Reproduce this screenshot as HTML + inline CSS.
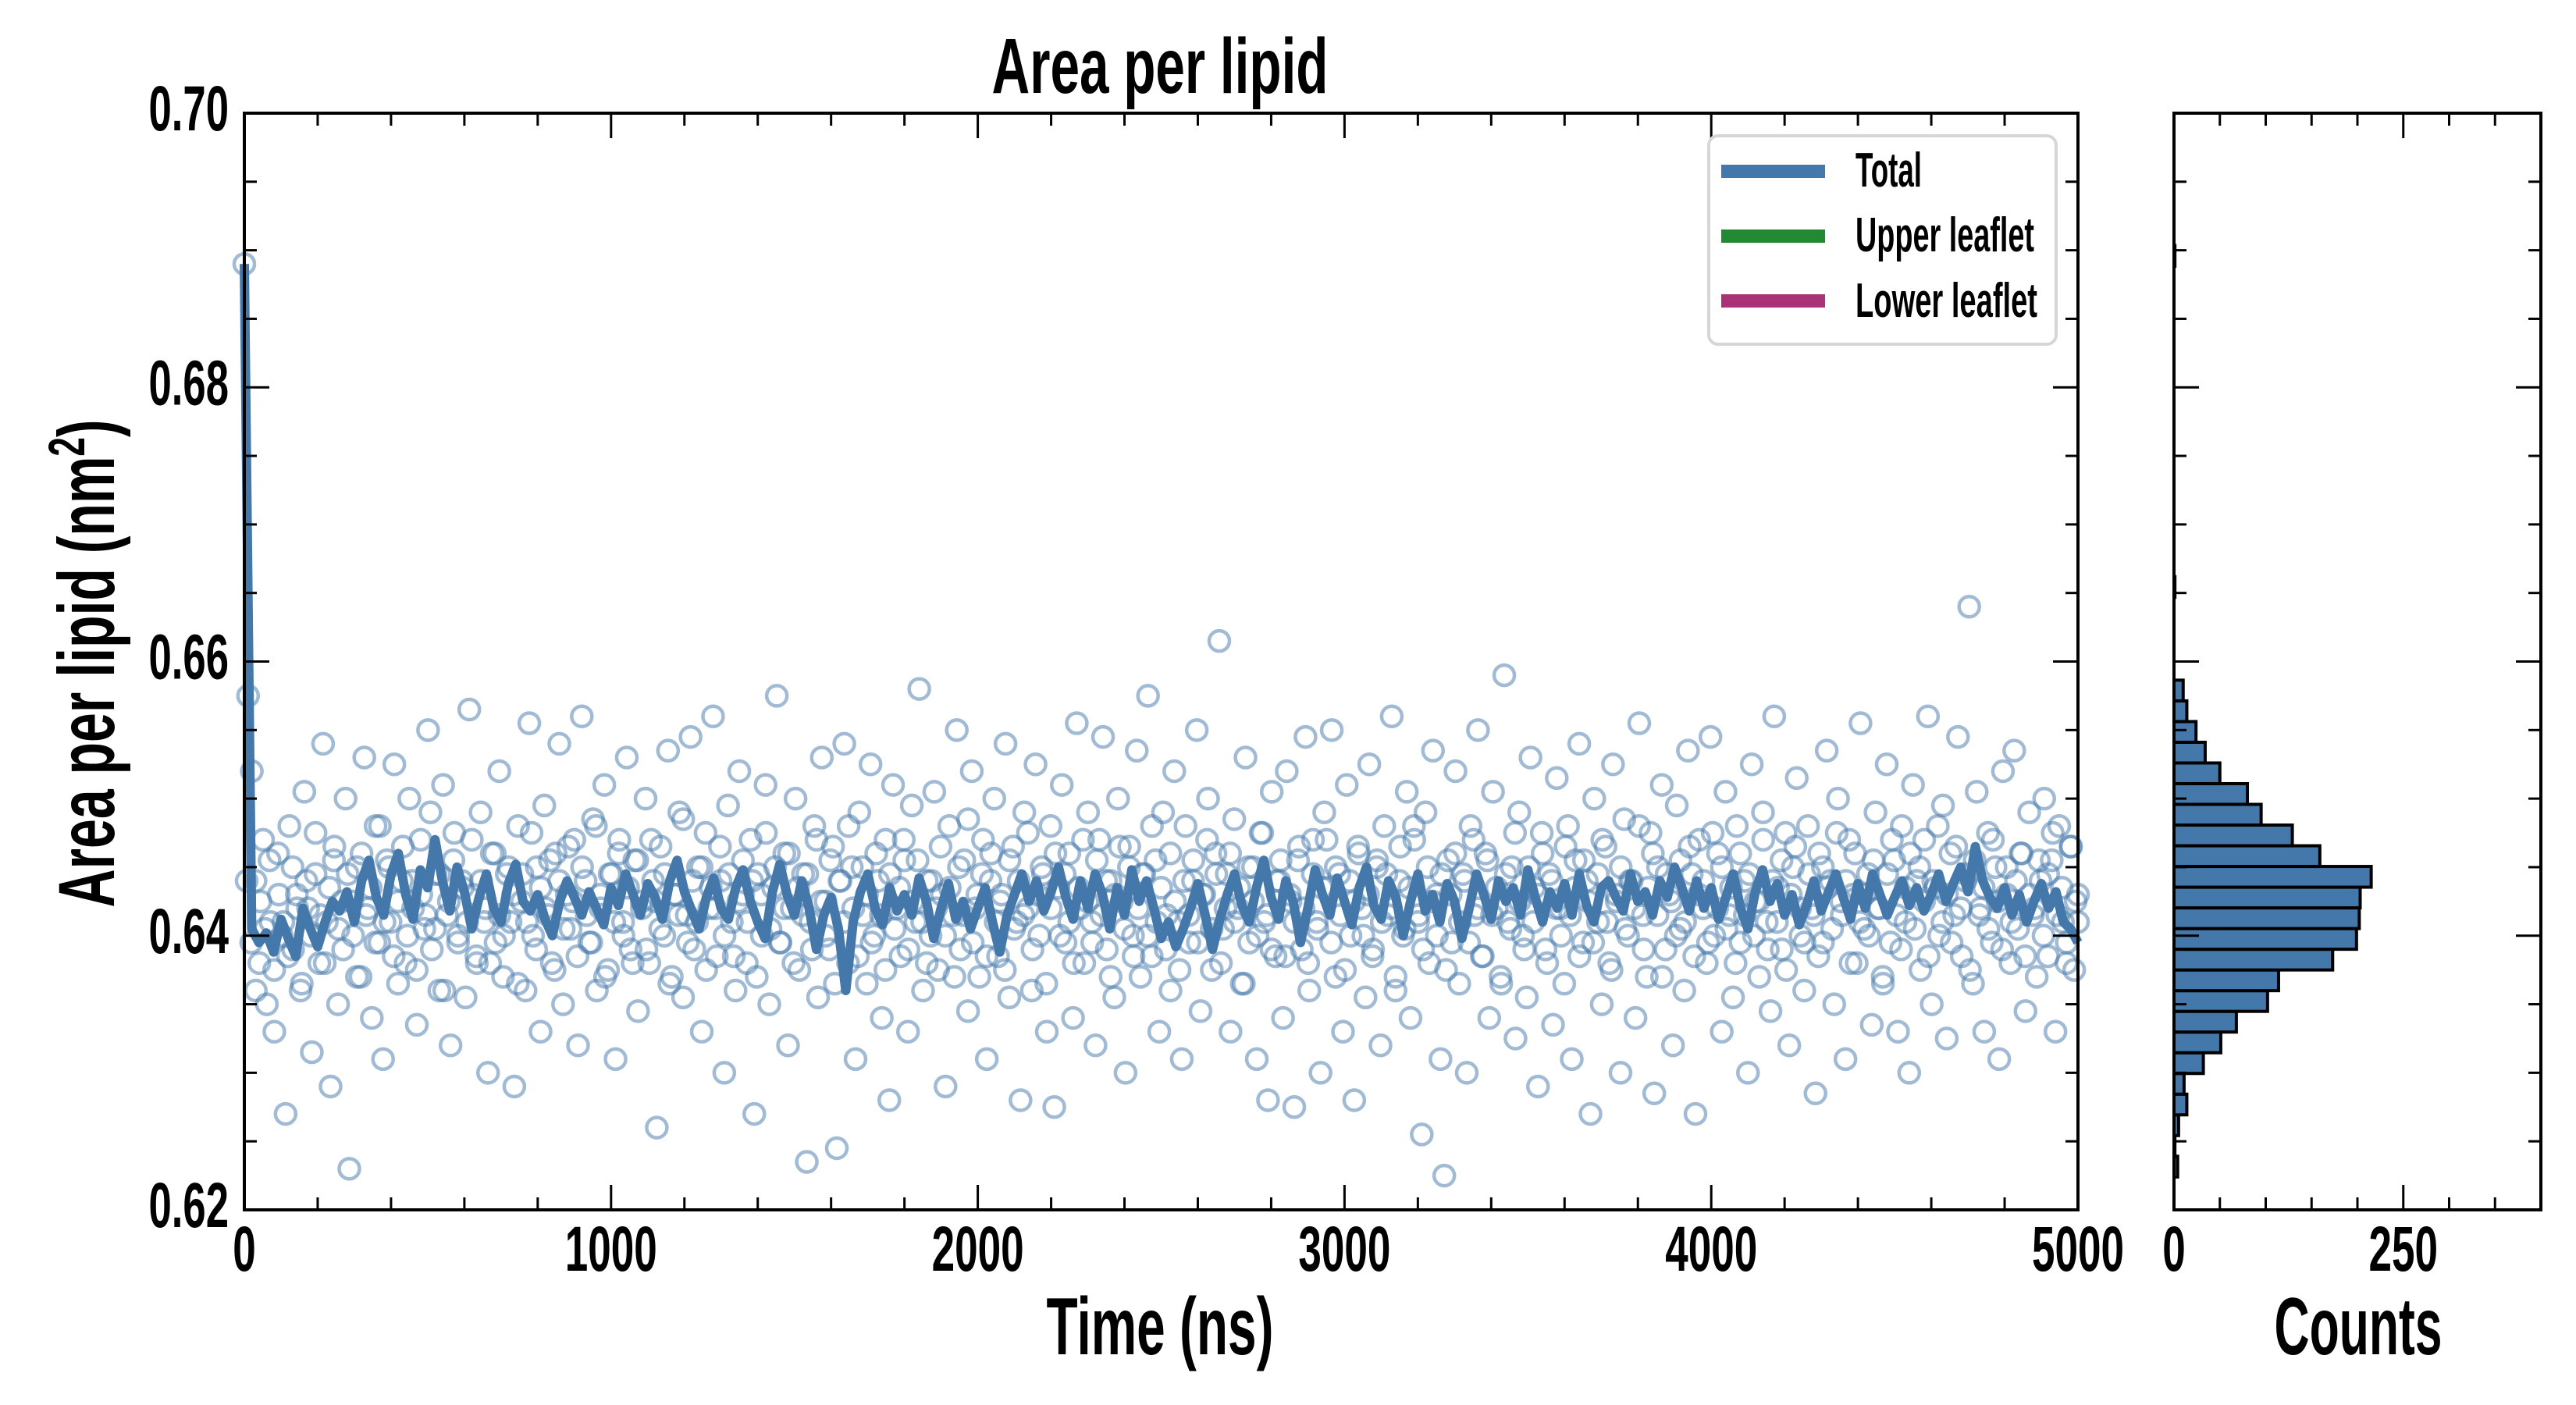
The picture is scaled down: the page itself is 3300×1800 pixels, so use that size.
<!DOCTYPE html>
<html><head><meta charset="utf-8"><title>Area per lipid</title>
<style>html,body{margin:0;padding:0;background:#fff}svg{display:block}text{font-family:"Liberation Sans Narrow","Liberation Sans",sans-serif;font-weight:bold;fill:#000}</style>
</head><body>
<svg id="chart" width="3300" height="1800" viewBox="0 0 3300 1800" xmlns="http://www.w3.org/2000/svg">
<g id="main-plot"></g>
<g id="hist-plot"></g>
<text x="1486" y="119" font-size="100" text-anchor="middle" textLength="431" lengthAdjust="spacingAndGlyphs">Area per lipid</text>
<text x="1486" y="1735" font-size="104" text-anchor="middle" textLength="291" lengthAdjust="spacingAndGlyphs">Time (ns)</text>
<text x="3021" y="1735" font-size="104" text-anchor="middle" textLength="215" lengthAdjust="spacingAndGlyphs">Counts</text>
<text transform="translate(146,850) rotate(-90)" font-size="102" text-anchor="middle" textLength="625" lengthAdjust="spacingAndGlyphs">Area per lipid (nm<tspan font-size="66" dy="-38">2</tspan><tspan dy="38">)</tspan></text>
<g>
<rect x="2189" y="174" width="445" height="267" rx="12" fill="#fff" stroke="#d6d6d6" stroke-width="4"/>
<rect x="2205" y="211" width="133" height="17" fill="#4477aa"/>
<text x="2377" y="239" font-size="62" textLength="85" lengthAdjust="spacingAndGlyphs">Total</text>
<rect x="2205" y="294" width="133" height="17" fill="#228833"/>
<text x="2377" y="322" font-size="62" textLength="229" lengthAdjust="spacingAndGlyphs">Upper leaflet</text>
<rect x="2205" y="377" width="133" height="17" fill="#aa3377"/>
<text x="2377" y="406" font-size="62" textLength="233" lengthAdjust="spacingAndGlyphs">Lower leaflet</text>
</g>
</svg>
<script>
const xTickLabels=["0","1000","2000","3000","4000","5000"];
const yTickLabels=["0.62","0.64","0.66","0.68","0.70"];
const histTickLabels=["0","250"];
const lineValues=[0.6890,0.6405,0.6395,0.6402,0.6388,0.6412,0.6398,0.6385,0.6420,0.6405,
0.6392,0.6410,0.6425,0.6418,0.6432,0.6410,0.6440,0.6455,0.6428,0.6415,
0.6445,0.6460,0.6430,0.6412,0.6448,0.6435,0.6470,0.6440,0.6418,0.6450,
0.6432,0.6405,0.6428,0.6445,0.6420,0.6410,0.6438,0.6452,0.6425,0.6418,
0.6430,0.6412,0.6400,0.6425,0.6440,0.6428,0.6415,0.6432,0.6420,0.6408,
0.6435,0.6422,0.6445,0.6430,0.6415,0.6438,0.6428,0.6412,0.6440,0.6455,
0.6432,0.6418,0.6405,0.6428,0.6442,0.6420,0.6412,0.6435,0.6448,0.6425,
0.6410,0.6398,0.6432,0.6452,0.6430,0.6415,0.6440,0.6420,0.6390,0.6415,
0.6428,0.6405,0.6360,0.6410,0.6432,0.6445,0.6420,0.6408,0.6435,0.6418,
0.6430,0.6415,0.6442,0.6425,0.6398,0.6420,0.6438,0.6412,0.6425,0.6405,
0.6420,0.6435,0.6410,0.6388,0.6415,0.6430,0.6445,0.6425,0.6440,0.6418,
0.6432,0.6450,0.6428,0.6412,0.6440,0.6420,0.6445,0.6430,0.6405,0.6435,
0.6415,0.6448,0.6425,0.6440,0.6420,0.6398,0.6410,0.6392,0.6405,0.6420,
0.6438,0.6415,0.6390,0.6412,0.6430,0.6445,0.6422,0.6410,0.6435,0.6455,
0.6428,0.6412,0.6440,0.6425,0.6395,0.6420,0.6448,0.6430,0.6415,0.6442,
0.6425,0.6408,0.6435,0.6450,0.6422,0.6412,0.6440,0.6428,0.6400,0.6425,
0.6445,0.6418,0.6430,0.6410,0.6438,0.6425,0.6398,0.6420,0.6445,0.6430,
0.6412,0.6440,0.6425,0.6435,0.6415,0.6448,0.6428,0.6410,0.6432,0.6420,
0.6438,0.6415,0.6445,0.6422,0.6410,0.6435,0.6440,0.6428,0.6418,0.6445,
0.6425,0.6432,0.6415,0.6440,0.6428,0.6450,0.6435,0.6418,0.6440,0.6420,
0.6435,0.6412,0.6428,0.6445,0.6420,0.6405,0.6432,0.6448,0.6425,0.6438,
0.6415,0.6430,0.6408,0.6422,0.6440,0.6418,0.6432,0.6445,0.6428,0.6412,
0.6438,0.6420,0.6445,0.6430,0.6415,0.6428,0.6440,0.6422,0.6435,0.6418,
0.6430,0.6445,0.6425,0.6438,0.6450,0.6432,0.6465,0.6440,0.6428,0.6420,
0.6435,0.6415,0.6430,0.6410,0.6425,0.6438,0.6420,0.6432,0.6410,0.6405,0.6395];
const scatterValues=[0.6890,0.6575,0.6520,0.6440,0.6380,0.6470,0.6350,0.6410,0.6330,0.6460,
0.6400,0.6270,0.6480,0.6390,0.6430,0.6360,0.6505,0.6420,0.6315,0.6445,
0.6380,0.6540,0.6410,0.6290,0.6465,0.6350,0.6425,0.6500,0.6230,0.6400,
0.6450,0.6370,0.6530,0.6420,0.6340,0.6480,0.6395,0.6310,0.6455,0.6410,
0.6525,0.6365,0.6440,0.6380,0.6500,0.6420,0.6335,0.6470,0.6405,0.6550,
0.6390,0.6445,0.6360,0.6510,0.6415,0.6320,0.6475,0.6400,0.6440,0.6355,
0.6565,0.6430,0.6380,0.6490,0.6410,0.6300,0.6460,0.6395,0.6520,0.6370,
0.6445,0.6410,0.6290,0.6480,0.6425,0.6360,0.6555,0.6400,0.6450,0.6330,
0.6495,0.6415,0.6380,0.6460,0.6540,0.6350,0.6430,0.6405,0.6470,0.6320,
0.6560,0.6440,0.6395,0.6485,0.6360,0.6420,0.6510,0.6375,0.6445,0.6310,
0.6470,0.6410,0.6530,0.6390,0.6455,0.6345,0.6425,0.6500,0.6380,0.6440,
0.6260,0.6465,0.6400,0.6535,0.6370,0.6430,0.6490,0.6355,0.6415,0.6545,
0.6390,0.6450,0.6330,0.6475,0.6420,0.6560,0.6385,0.6440,0.6300,0.6495,
0.6410,0.6360,0.6520,0.6430,0.6380,0.6470,0.6270,0.6445,0.6400,0.6510,
0.6350,0.6435,0.6575,0.6395,0.6460,0.6320,0.6420,0.6500,0.6375,0.6445,
0.6235,0.6410,0.6480,0.6355,0.6530,0.6425,0.6390,0.6465,0.6245,0.6440,
0.6540,0.6380,0.6450,0.6310,0.6490,0.6415,0.6365,0.6525,0.6400,0.6440,
0.6340,0.6470,0.6280,0.6510,0.6420,0.6385,0.6455,0.6330,0.6495,0.6410,
0.6580,0.6360,0.6440,0.6400,0.6505,0.6375,0.6430,0.6290,0.6480,0.6415,
0.6550,0.6390,0.6455,0.6345,0.6520,0.6420,0.6370,0.6470,0.6310,0.6440,
0.6500,0.6385,0.6430,0.6540,0.6355,0.6465,0.6410,0.6280,0.6490,0.6420,
0.6360,0.6525,0.6400,0.6445,0.6330,0.6480,0.6275,0.6435,0.6510,0.6395,
0.6460,0.6340,0.6555,0.6420,0.6380,0.6490,0.6410,0.6320,0.6470,0.6545,
0.6390,0.6440,0.6355,0.6500,0.6425,0.6300,0.6465,0.6400,0.6535,0.6370,
0.6445,0.6575,0.6385,0.6455,0.6330,0.6490,0.6415,0.6360,0.6520,0.6410,
0.6310,0.6480,0.6395,0.6440,0.6550,0.6345,0.6430,0.6500,0.6375,0.6460,
0.6615,0.6405,0.6445,0.6330,0.6485,0.6420,0.6365,0.6530,0.6395,0.6450,
0.6310,0.6475,0.6410,0.6280,0.6505,0.6385,0.6440,0.6340,0.6520,0.6425,
0.6275,0.6455,0.6390,0.6545,0.6360,0.6470,0.6410,0.6300,0.6490,0.6435,
0.6550,0.6370,0.6445,0.6330,0.6510,0.6400,0.6280,0.6465,0.6420,0.6355,
0.6525,0.6390,0.6450,0.6320,0.6480,0.6415,0.6560,0.6360,0.6440,0.6400,
0.6505,0.6340,0.6470,0.6410,0.6255,0.6490,0.6380,0.6535,0.6430,0.6310,
0.6225,0.6455,0.6395,0.6520,0.6365,0.6445,0.6300,0.6480,0.6415,0.6550,
0.6385,0.6460,0.6340,0.6505,0.6420,0.6370,0.6590,0.6410,0.6450,0.6325,
0.6490,0.6400,0.6355,0.6530,0.6435,0.6290,0.6475,0.6390,0.6445,0.6335,
0.6515,0.6420,0.6365,0.6480,0.6310,0.6455,0.6540,0.6395,0.6440,0.6270,
0.6500,0.6410,0.6350,0.6465,0.6380,0.6525,0.6425,0.6300,0.6485,0.6400,
0.6440,0.6340,0.6555,0.6415,0.6370,0.6475,0.6285,0.6450,0.6510,0.6390,
0.6430,0.6320,0.6495,0.6405,0.6360,0.6535,0.6445,0.6270,0.6470,0.6420,
0.6380,0.6545,0.6400,0.6460,0.6330,0.6505,0.6415,0.6355,0.6480,0.6395,
0.6440,0.6300,0.6525,0.6425,0.6370,0.6490,0.6410,0.6345,0.6560,0.6435,
0.6390,0.6475,0.6320,0.6450,0.6515,0.6400,0.6360,0.6480,0.6420,0.6285,
0.6460,0.6395,0.6535,0.6440,0.6350,0.6500,0.6415,0.6310,0.6470,0.6430,
0.6380,0.6555,0.6405,0.6445,0.6335,0.6490,0.6420,0.6365,0.6525,0.6395,
0.6455,0.6330,0.6480,0.6410,0.6300,0.6510,0.6440,0.6375,0.6470,0.6560,
0.6350,0.6435,0.6400,0.6495,0.6325,0.6460,0.6415,0.6545,0.6385,0.6440,
0.6640,0.6365,0.6505,0.6420,0.6330,0.6475,0.6395,0.6450,0.6310,0.6520,
0.6430,0.6380,0.6535,0.6405,0.6460,0.6345,0.6490,0.6415,0.6370,0.6440,
0.6500,0.6385,0.6455,0.6330,0.6480,0.6410,0.6395,0.6465,0.6375,0.6430];
const scatterValuesB=[0.6440,0.6395,0.6360,0.6425,0.6405,0.6455,0.6375,0.6430,0.6410,0.6385,
0.6450,0.6420,0.6365,0.6440,0.6400,0.6475,0.6415,0.6380,0.6435,0.6455,
0.6405,0.6390,0.6445,0.6425,0.6370,0.6460,0.6415,0.6435,0.6395,0.6480,
0.6410,0.6450,0.6385,0.6425,0.6465,0.6400,0.6440,0.6375,0.6430,0.6415,
0.6490,0.6405,0.6445,0.6360,0.6425,0.6455,0.6395,0.6435,0.6410,0.6470,
0.6385,0.6440,0.6420,0.6380,0.6460,0.6415,0.6400,0.6450,0.6430,0.6365,
0.6445,0.6410,0.6475,0.6390,0.6435,0.6420,0.6455,0.6375,0.6440,0.6405,
0.6465,0.6425,0.6385,0.6450,0.6415,0.6395,0.6480,0.6430,0.6370,0.6445,
0.6410,0.6460,0.6400,0.6435,0.6380,0.6455,0.6420,0.6390,0.6470,0.6425,
0.6405,0.6445,0.6365,0.6430,0.6415,0.6485,0.6395,0.6440,0.6410,0.6450,
0.6375,0.6435,0.6420,0.6465,0.6400,0.6445,0.6385,0.6425,0.6455,0.6410,
0.6440,0.6370,0.6430,0.6475,0.6405,0.6450,0.6395,0.6420,0.6460,0.6380,
0.6435,0.6415,0.6445,0.6390,0.6470,0.6425,0.6400,0.6455,0.6365,0.6440,
0.6410,0.6480,0.6420,0.6385,0.6450,0.6430,0.6395,0.6460,0.6415,0.6375,
0.6445,0.6405,0.6435,0.6470,0.6390,0.6425,0.6455,0.6410,0.6380,0.6440,
0.6420,0.6465,0.6400,0.6435,0.6370,0.6450,0.6415,0.6485,0.6395,0.6430,
0.6445,0.6385,0.6460,0.6410,0.6425,0.6375,0.6455,0.6405,0.6440,0.6415,
0.6475,0.6390,0.6430,0.6450,0.6365,0.6420,0.6460,0.6400,0.6445,0.6410,
0.6380,0.6435,0.6470,0.6425,0.6395,0.6455,0.6415,0.6440,0.6370,0.6430,
0.6465,0.6405,0.6450,0.6385,0.6420,0.6445,0.6400,0.6480,0.6410,0.6435,
0.6390,0.6460,0.6425,0.6375,0.6440,0.6415,0.6455,0.6395,0.6430,0.6470,
0.6405,0.6445,0.6380,0.6420,0.6460,0.6410,0.6435,0.6365,0.6450,0.6425,
0.6400,0.6475,0.6415,0.6390,0.6440,0.6455,0.6385,0.6430,0.6410,0.6465,
0.6420,0.6380,0.6445,0.6405,0.6435,0.6470,0.6395,0.6450,0.6415,0.6375,
0.6440,0.6425,0.6460,0.6400,0.6430,0.6385,0.6455,0.6410,0.6445,0.6420,
0.6370,0.6465,0.6405,0.6435,0.6480,0.6415,0.6390,0.6450,0.6425,0.6400,
0.6445,0.6375,0.6430,0.6460,0.6410,0.6440,0.6395,0.6470,0.6420,0.6385,
0.6455,0.6415,0.6435,0.6365,0.6445,0.6405,0.6475,0.6425,0.6390,0.6450,
0.6410,0.6430,0.6460,0.6380,0.6440,0.6420,0.6400,0.6465,0.6415,0.6435,
0.6385,0.6455,0.6425,0.6395,0.6445,0.6470,0.6410,0.6375,0.6430,0.6450,
0.6405,0.6440,0.6420,0.6480,0.6390,0.6435,0.6460,0.6415,0.6370,0.6445,
0.6425,0.6400,0.6455,0.6410,0.6465,0.6385,0.6430,0.6440,0.6395,0.6475,
0.6420,0.6450,0.6405,0.6435,0.6380,0.6460,0.6415,0.6445,0.6400,0.6425,
0.6470,0.6390,0.6440,0.6410,0.6455,0.6375,0.6430,0.6465,0.6420,0.6395,
0.6445,0.6415,0.6385,0.6450,0.6435,0.6405,0.6475,0.6425,0.6440,0.6380,
0.6460,0.6410,0.6430,0.6400,0.6455,0.6420,0.6370,0.6445,0.6470,0.6415,
0.6390,0.6435,0.6460,0.6405,0.6450,0.6425,0.6385,0.6440,0.6480,0.6410,
0.6430,0.6395,0.6465,0.6420,0.6445,0.6375,0.6455,0.6415,0.6435,0.6405,
0.6470,0.6425,0.6390,0.6450,0.6410,0.6440,0.6460,0.6385,0.6430,0.6420,
0.6455,0.6400,0.6445,0.6475,0.6415,0.6435,0.6380,0.6465,0.6425,0.6410];
const histBinStart=0.6224;
const histBinWidth=0.00151;
const histCounts=[4,1,5,14,11,32,51,68,102,114,173,199,202,203,215,159,129,95,80,50,34,24,14,10,0,0,0,0,1,0,0,0,0,0,0,0,0,0,0,0,0,0,0,0,1];

const NS="http://www.w3.org/2000/svg";
const M={l:313,r:2662,t:145,b:1550};
const H={l:2785,r:3255};
const yMin=0.62,yMax=0.70,xMax=5000,cMax=400;
const xs=v=>M.l+(v/xMax)*(M.r-M.l);
const ys=v=>M.b-(v-yMin)/(yMax-yMin)*(M.b-M.t);
const cs=v=>H.l+(v/cMax)*(H.r-H.l);
function mk(tag,attrs,parent){const e=document.createElementNS(NS,tag);for(const k in attrs)e.setAttribute(k,attrs[k]);parent.appendChild(e);return e;}
const main=document.getElementById('main-plot');
const hist=document.getElementById('hist-plot');

const sg=mk('g',{},main);


function drawScatter(vals,offsetFrac){
  const step=xMax/(vals.length-1);
  vals.forEach((v,i)=>{
    const t=Math.min(xMax,(i+offsetFrac)*step);
    const c=mk('circle',{cx:xs(t),cy:ys(v),r:13,fill:'none',stroke:'rgba(68,119,170,0.5)','stroke-width':4.5},sg);
    
    
  });
}
drawScatter(scatterValues,0);
drawScatter(scatterValuesB,0.5);

const lStep=xMax/(lineValues.length-1);
const pl=mk('polyline',{points:lineValues.map((v,i)=>xs(i*lStep).toFixed(1)+','+ys(v).toFixed(1)).join(' '),fill:'none',stroke:'#4477aa','stroke-width':12,'stroke-linejoin':'round'},main);



histCounts.forEach((c,i)=>{
  if(c<=0)return;
  const y0=ys(histBinStart+i*histBinWidth),y1=ys(histBinStart+(i+1)*histBinWidth);
  const r=mk('rect',{x:H.l,y:y1,width:cs(c)-H.l,height:y0-y1,fill:'#4477aa',stroke:'#000','stroke-width':4},hist);
  
  
});

function frame(g,l,r){
  const f=mk('rect',{x:l,y:M.t,width:r-l,height:M.b-M.t,fill:'none',stroke:'#000','stroke-width':4},g);
  
  
  for(let k=0;k<=16;k++){
    const v=yMin+k*0.005,y=ys(v),L=(k%4===0)?32:16;
    mk('line',{x1:l,x2:l+L,y1:y,y2:y,stroke:'#000','stroke-width':3},g);
    mk('line',{x1:r,x2:r-L,y1:y,y2:y,stroke:'#000','stroke-width':3},g);
  }
}
frame(main,M.l,M.r);
frame(hist,H.l,H.r);
for(let k=0;k<=25;k++){
  const x=xs(k*200),L=(k%5===0)?32:16;
  mk('line',{x1:x,x2:x,y1:M.b,y2:M.b-L,stroke:'#000','stroke-width':3},main);
  mk('line',{x1:x,x2:x,y1:M.t,y2:M.t+L,stroke:'#000','stroke-width':3},main);
}
for(let k=0;k<=8;k++){
  const x=cs(k*50),L=(k%5===0)?32:16;
  mk('line',{x1:x,x2:x,y1:M.b,y2:M.b-L,stroke:'#000','stroke-width':3},hist);
  mk('line',{x1:x,x2:x,y1:M.t,y2:M.t+L,stroke:'#000','stroke-width':3},hist);
}
const svg=document.getElementById('chart');
function lab(txt,x,y,anchor,name){
  const t=mk('text',{x:x,y:y,'font-size':82,'text-anchor':anchor,textLength:(txt.replace('.','').length*29.5+(txt.includes('.')?14:0)),lengthAdjust:'spacingAndGlyphs'},svg);
  t.textContent=txt;
  
  
}
xTickLabels.forEach((s,i)=>lab(s,xs(i*1000),1628,'middle','x-tick-label'));
yTickLabels.forEach((s,i)=>lab(s,293,ys(yMin+i*0.02)+22,'end','y-tick-label'));
histTickLabels.forEach((s,i)=>lab(s,cs(i*250),1628,'middle','hist-tick-label'));
</script>
</body></html>
